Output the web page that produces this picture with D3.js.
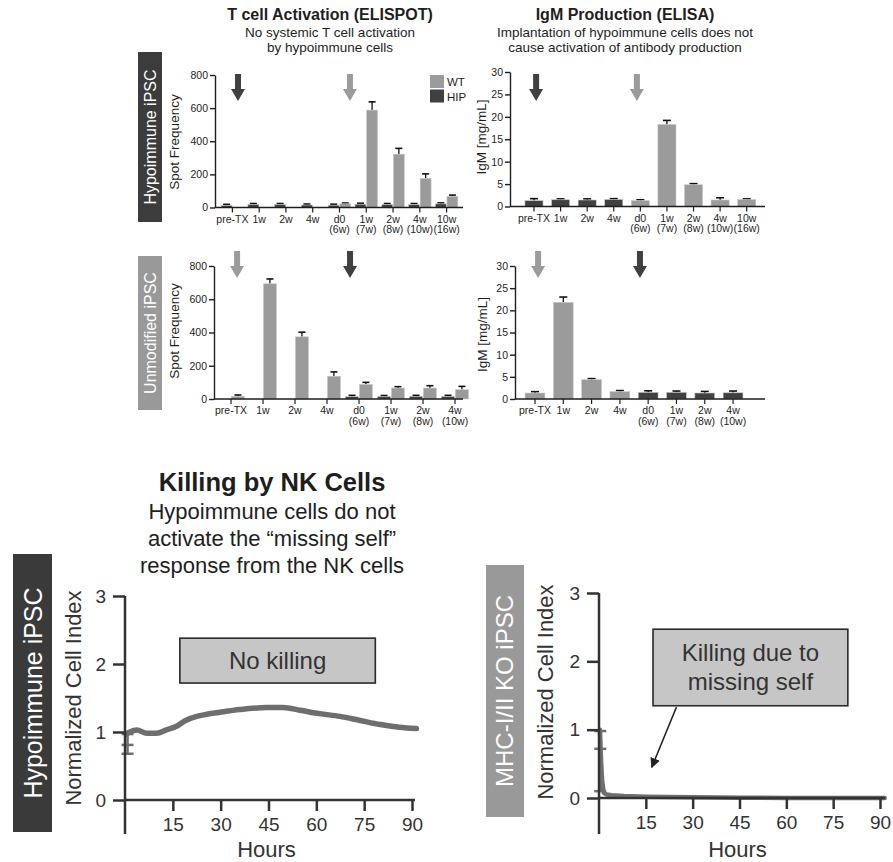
<!DOCTYPE html>
<html><head><meta charset="utf-8">
<script src="https://cdn.jsdelivr.net/npm/d3@7"></script>
<style>body{margin:0;background:#fff}svg{display:block;font-family:"Liberation Sans",Arial,Helvetica,sans-serif}</style>
</head><body><svg id="c" width="893" height="862"></svg>
<script>
// ---------------- DATA ----------------
const catsA = ["pre-TX","1w","2w","4w","d0","1w","2w","4w","10w"];
const subsA = ["","","","","(6w)","(7w)","(8w)","(10w)","(16w)"];
const catsB = ["pre-TX","1w","2w","4w","d0","1w","2w","4w"];
const subsB = ["","","","","(6w)","(7w)","(8w)","(10w)"];

const spotHIP1    = [12,18,18,15,14,20,18,17,22];
const spotHIP1Err = [19,24,24,21,20,26,24,24,28];
const spotWT1     = [null,null,null,null,22,588,322,176,67];
const spotWT1Err  = [null,null,null,null,27,638,357,203,75];

const spotHIP2    = [null,null,null,null,14,15,16,15];
const spotHIP2Err = [null,null,null,null,22,21,22,22];
const spotWT2     = [16,693,374,137,88,66,66,56];
const spotWT2Err  = [24,722,402,163,100,74,80,76];

const igm1      = [1.3,1.5,1.45,1.55,1.3,18.3,4.85,1.45,1.55];
const igm1Err   = [1.75,1.7,1.7,1.75,1.5,19.2,5.1,1.95,1.7];
const igm1Group = ["HIP","HIP","HIP","HIP","WT","WT","WT","WT","WT"];
const igm2      = [1.35,21.8,4.35,1.65,1.5,1.5,1.35,1.4];
const igm2Err   = [1.65,23.0,4.6,1.9,1.85,1.8,1.7,1.8];
const igm2Group = ["WT","WT","WT","WT","HIP","HIP","HIP","HIP"];

const spotTicks = [0,200,400,600,800];
const igmTicks  = [0,5,10,15,20,25,30];
const legendKeys = ["WT","HIP"];

// arrows: position in category units from first category, and group colour
const arrowsSpot1 = [{pos:0.21,g:"HIP"},{pos:4.39,g:"WT"}];
const arrowsIgm1  = [{pos:0.08,g:"HIP"},{pos:3.87,g:"WT"}];
const arrowsSpot2 = [{pos:0.19,g:"WT"},{pos:3.72,g:"HIP"}];
const arrowsIgm2  = [{pos:0.11,g:"WT"},{pos:3.71,g:"HIP"}];

// NK killing curves
const nkHours1 = [0.4,1.5,3.7,6.8,9.9,13,16,19,22.5,25.6,29.8,36,44.4,49.6,54.9,61,67.4,73.7,80,86,91.4];
const nkIndex1 = [0.97,1.0,1.03,0.98,0.98,1.03,1.08,1.17,1.23,1.26,1.29,1.33,1.36,1.36,1.32,1.27,1.23,1.17,1.11,1.07,1.05];
const nkHours2 = [0.3,0.6,1.0,1.5,2.5,4,8,15,30,45,60,75,90,91.5];
const nkIndex2 = [1.0,0.6,0.25,0.08,0.05,0.04,0.03,0.02,0.01,0.005,0,0,0,0];
const nkErrH1 = 0.8, nkCaps1 = [0.97,0.81,0.68];
const nkErrH2 = 0.4, nkCaps2 = [0.98,0.72,0.1];
const hourTicks  = [15,30,45,60,75,90];
const indexTicks = [0,1,2,3];

// ---------------- DRAW ----------------
const DARK="#404040", LIGHT="#9b9b9b", INK="#1e1e1e", LINE="#6e6e6e";
const col = {HIP:DARK, WT:LIGHT};
const svg = d3.select("#c");
svg.append("rect").attr("width",893).attr("height",862).attr("fill","#fff");

function txt(x,y,s,size,opt={}){
  const t = svg.append("text").attr("x",x).attr("y",y).text(s)
    .attr("font-size",size).attr("fill",opt.fill||INK)
    .attr("text-anchor",opt.anchor||"middle");
  if(opt.bold) t.attr("font-weight","bold");
  if(opt.rot) t.attr("transform",`rotate(-90,${x},${y})`).attr("dy","0.35em");
  return t;
}

function barPanel(o){
  const g = svg.append("g");
  const n = o.cats.length;
  const x = d3.scaleBand().domain(d3.range(n)).range(o.xr).paddingInner(o.pad).paddingOuter(o.pad/2);
  const y = d3.scaleLinear().domain([0,o.yMax]).range([o.y0,o.y1]);
  const step = x.step();
  const sub = d3.scaleBand().domain(["HIP","WT"]).range([0,x.bandwidth()]).paddingInner(0.06);
  o.series.forEach(s=>{
    s.vals.forEach((v,i)=>{
      if(v==null) return;
      const key = s.key || s.groups[i];
      let bx, bw;
      if(o.grouped){ bx = x(i)+sub(key); bw = sub.bandwidth(); }
      else { bx = x(i); bw = x.bandwidth(); }
      const e = s.errs[i];
      const cx = bx+bw/2;
      g.append("line").attr("x1",cx).attr("x2",cx).attr("y1",y(v)).attr("y2",y(e))
        .attr("stroke","#111").attr("stroke-width",1.3);
      g.append("line").attr("x1",cx-o.cap).attr("x2",cx+o.cap).attr("y1",y(e)).attr("y2",y(e))
        .attr("stroke","#111").attr("stroke-width",1.6);
      g.append("rect").attr("x",bx).attr("y",y(v)).attr("width",bw).attr("height",o.y0-y(v))
        .attr("fill",col[key]).attr("stroke","#c8c8c8").attr("stroke-width",0.6);
    });
  });
  // y axis
  const ya = g.append("g").attr("transform",`translate(${o.ax},0)`)
    .call(d3.axisLeft(y).tickValues(o.yTicks).tickSize(5).tickSizeOuter(0).tickPadding(2).tickFormat(d3.format("d")));
  ya.select(".domain").attr("stroke",INK).attr("stroke-width",1.4);
  ya.selectAll(".tick line").attr("stroke",INK).attr("stroke-width",1.4);
  ya.selectAll(".tick text").attr("font-size",10.5).attr("fill",INK).attr("font-family",null);
  // x axis
  const xa = g.append("g").attr("transform",`translate(0,${o.y0})`)
    .call(d3.axisBottom(x).tickSize(5).tickSizeOuter(0).tickPadding(3).tickFormat(i=>o.cats[i]));
  xa.select(".domain").remove();
  xa.selectAll(".tick line").attr("stroke",INK).attr("stroke-width",1.2);
  xa.selectAll(".tick text").attr("font-size",10.5).attr("fill",INK).attr("font-family",null)
    .each(function(i){
      if(o.subs[i]) d3.select(this).append("tspan").attr("x",0).attr("dy","1.0em").text(o.subs[i]);
    });
  g.append("line").attr("x1",o.ax).attr("x2",o.axEnd).attr("y1",o.y0).attr("y2",o.y0)
    .attr("stroke",INK).attr("stroke-width",1.5);
  // arrows
  o.arrows.forEach(a=>{
    const cx = x(0)+x.bandwidth()/2 + a.pos*step;
    const t = o.arrowTop;
    g.append("path").attr("fill",col[a.g])
      .attr("d",`M${cx-3},${t} L${cx+3},${t} L${cx+3},${t+15} L${cx+7},${t+15} L${cx},${t+27} L${cx-7},${t+15} L${cx-3},${t+15} Z`);
  });
  // y label
  txt(o.ylx,o.yly,o.yLabel,13.5,{rot:true});
  return {x,y};
}

// titles (top)
txt(330,20,"T cell Activation (ELISPOT)",16,{bold:true});
txt(330,37,"No systemic T cell activation",13.5);
txt(330,52,"by hypoimmune cells",13.5);
txt(625,20,"IgM Production (ELISA)",16,{bold:true});
txt(625,37,"Implantation of hypoimmune cells does not",13.5);
txt(625,52,"cause activation of antibody production",13.5);

// row labels (top)
svg.append("rect").attr("x",138).attr("y",52).attr("width",24).attr("height",170).attr("fill","#3c3c3c");
txt(150,137,"Hypoimmune iPSC",16,{rot:true,fill:"#fff"});
svg.append("rect").attr("x",138).attr("y",256).attr("width",24).attr("height",154).attr("fill","#999");
txt(150,333,"Unmodified iPSC",16,{rot:true,fill:"#fff"});

barPanel({cats:catsA,subs:subsA,xr:[219,460],pad:0.16,y0:207.5,y1:75,yMax:800,yTicks:spotTicks,
  ax:215,axEnd:463,grouped:true,cap:3.5,arrowTop:74,arrows:arrowsSpot1,
  series:[{key:"HIP",vals:spotHIP1,errs:spotHIP1Err},{key:"WT",vals:spotWT1,errs:spotWT1Err}],
  yLabel:"Spot Frequency",ylx:174,yly:142});
barPanel({cats:catsB,subs:subsB,xr:[215,471],pad:0.16,y0:399,y1:266,yMax:800,yTicks:spotTicks,
  ax:214,axEnd:463,grouped:true,cap:3.5,arrowTop:251,arrows:arrowsSpot2,
  series:[{key:"HIP",vals:spotHIP2,errs:spotHIP2Err},{key:"WT",vals:spotWT2,errs:spotWT2Err}],
  yLabel:"Spot Frequency",ylx:174,yly:331});
barPanel({cats:catsA,subs:subsA,xr:[520.7,760],pad:0.32,y0:206.5,y1:72,yMax:30,yTicks:igmTicks,
  ax:510,axEnd:765,grouped:false,cap:4,arrowTop:74,arrows:arrowsIgm1,
  series:[{groups:igm1Group,vals:igm1,errs:igm1Err}],
  yLabel:"IgM [mg/mL]",ylx:481.5,yly:137});
barPanel({cats:catsB,subs:subsB,xr:[520.85,747.2],pad:0.3,y0:399,y1:266,yMax:30,yTicks:igmTicks,
  ax:515,axEnd:765,grouped:false,cap:4,arrowTop:251,arrows:arrowsIgm2,
  series:[{groups:igm2Group,vals:igm2,errs:igm2Err}],
  yLabel:"IgM [mg/mL]",ylx:482,yly:334.5});

// legend
legendKeys.forEach((k,i)=>{
  svg.append("rect").attr("x",430).attr("y",75+i*14.5).attr("width",14).attr("height",13).attr("fill",col[k]);
  txt(447,86+i*14.5,k,11.5,{anchor:"start"});
});

// ---------- NK panels ----------
txt(272,491,"Killing by NK Cells",25.5,{bold:true});
txt(272,519,"Hypoimmune cells do not",22);
txt(272,546,"activate the \u201cmissing self\u201d",22);
txt(272,573,"response from the NK cells",22);

function nkPanel(o){
  const g = svg.append("g");
  const x = d3.scaleLinear().domain([0,90]).range([o.x0,o.x90]);
  const y = d3.scaleLinear().domain([0,3]).range([o.y0,o.y3]);
  const line = d3.line().x((d,i)=>x(o.hours[i])).y(d=>y(d)).curve(o.curve);
  // error bar
  const ex = x(o.errH);
  g.append("line").attr("x1",ex).attr("x2",ex).attr("y1",y(d3.max(o.caps))).attr("y2",y(d3.min(o.caps)))
    .attr("stroke",LINE).attr("stroke-width",2.5);
  o.caps.forEach(c=>g.append("line").attr("x1",ex-6).attr("x2",ex+6).attr("y1",y(c)).attr("y2",y(c))
    .attr("stroke",LINE).attr("stroke-width",2.5));
  g.append("path").datum(o.vals).attr("d",line).attr("fill","none").attr("stroke",LINE)
    .attr("stroke-width",o.lw).attr("stroke-linejoin","round").attr("stroke-linecap","round");
  // axes
  const ya = g.append("g").attr("transform",`translate(${o.x0},0)`)
    .call(d3.axisLeft(y).tickValues(indexTicks).tickSize(12).tickPadding(7).tickFormat(d3.format("d")));
  ya.select(".domain").remove();
  ya.selectAll(".tick line").attr("stroke","#333").attr("stroke-width",2.5);
  ya.selectAll(".tick text").attr("font-size",19).attr("fill","#333").attr("font-family",null);
  g.append("line").attr("x1",o.x0).attr("x2",o.x0).attr("y1",y(3)).attr("y2",o.yBottom)
    .attr("stroke","#333").attr("stroke-width",2.5);
  const xa = g.append("g").attr("transform",`translate(0,${o.y0})`)
    .call(d3.axisBottom(x).tickValues(hourTicks).tickSize(11).tickPadding(7).tickFormat(d3.format("d")));
  xa.select(".domain").remove();
  xa.selectAll(".tick line").attr("stroke","#333").attr("stroke-width",2.5);
  xa.selectAll(".tick text").attr("font-size",19).attr("fill","#333").attr("font-family",null);
  g.append("line").attr("x1",o.x0).attr("x2",o.xEnd).attr("y1",o.y0).attr("y2",o.y0)
    .attr("stroke","#333").attr("stroke-width",2.5);
  txt((o.x0+o.x90)/2 - 2,857,"Hours",22,{fill:"#333"});
  txt(o.ylx,o.yly,"Normalized Cell Index",22,{rot:true,fill:"#333"});
  // annotation box
  const b = o.box;
  g.append("rect").attr("x",x(b.h0)).attr("y",y(b.v1)).attr("width",x(b.h1)-x(b.h0)).attr("height",y(b.v0)-y(b.v1))
    .attr("fill","#c6c6c6").attr("stroke","#2a2a2a").attr("stroke-width",1.6);
  const cx = (x(b.h0)+x(b.h1))/2, cy=(y(b.v0)+y(b.v1))/2;
  b.lines.forEach((s,i)=>txt(cx,cy+8+(i-(b.lines.length-1)/2)*29,s,24,{fill:"#333"}));
  return {x,y,g};
}

// left
svg.append("rect").attr("x",13).attr("y",554).attr("width",39).attr("height",278).attr("fill","#3a3a3a");
txt(33,693,"Hypoimmune iPSC",25,{rot:true,fill:"#fff"});
nkPanel({x0:125,x90:412,xEnd:415,y0:800,y3:596,yBottom:834,hours:nkHours1,vals:nkIndex1,
  curve:d3.curveMonotoneX,lw:5.5,errH:nkErrH1,caps:nkCaps1,ylx:73,yly:698,
  box:{h0:17.2,h1:78.5,v0:1.72,v1:2.38,lines:["No killing"]}});

// right
svg.append("rect").attr("x",486).attr("y",565).attr("width",38).attr("height",252).attr("fill","#999");
txt(505,691,"MHC-I/II KO iPSC",24,{rot:true,fill:"#fff"});
const R = nkPanel({x0:599,x90:880,xEnd:885,y0:798,y3:593,yBottom:834,hours:nkHours2,vals:nkIndex2,
  curve:d3.curveLinear,lw:4.5,errH:nkErrH2,caps:nkCaps2,ylx:545,yly:692,
  box:{h0:17.3,h1:79.7,v0:1.35,v1:2.47,lines:["Killing due to","missing self"]}});
// arrow annotation
const defs = svg.append("defs");
defs.append("marker").attr("id","ah").attr("viewBox","0 0 10 10").attr("refX",9).attr("refY",5)
  .attr("markerWidth",10).attr("markerHeight",10).attr("markerUnits","userSpaceOnUse").attr("orient","auto")
  .append("path").attr("d","M0,0 L10,5 L0,10 Z").attr("fill","#222");
R.g.append("line").attr("x1",R.x(24.8)).attr("y1",R.y(1.33)).attr("x2",R.x(16.9)).attr("y2",R.y(0.45))
  .attr("stroke","#222").attr("stroke-width",1.5).attr("marker-end","url(#ah)");
</script></body></html>
